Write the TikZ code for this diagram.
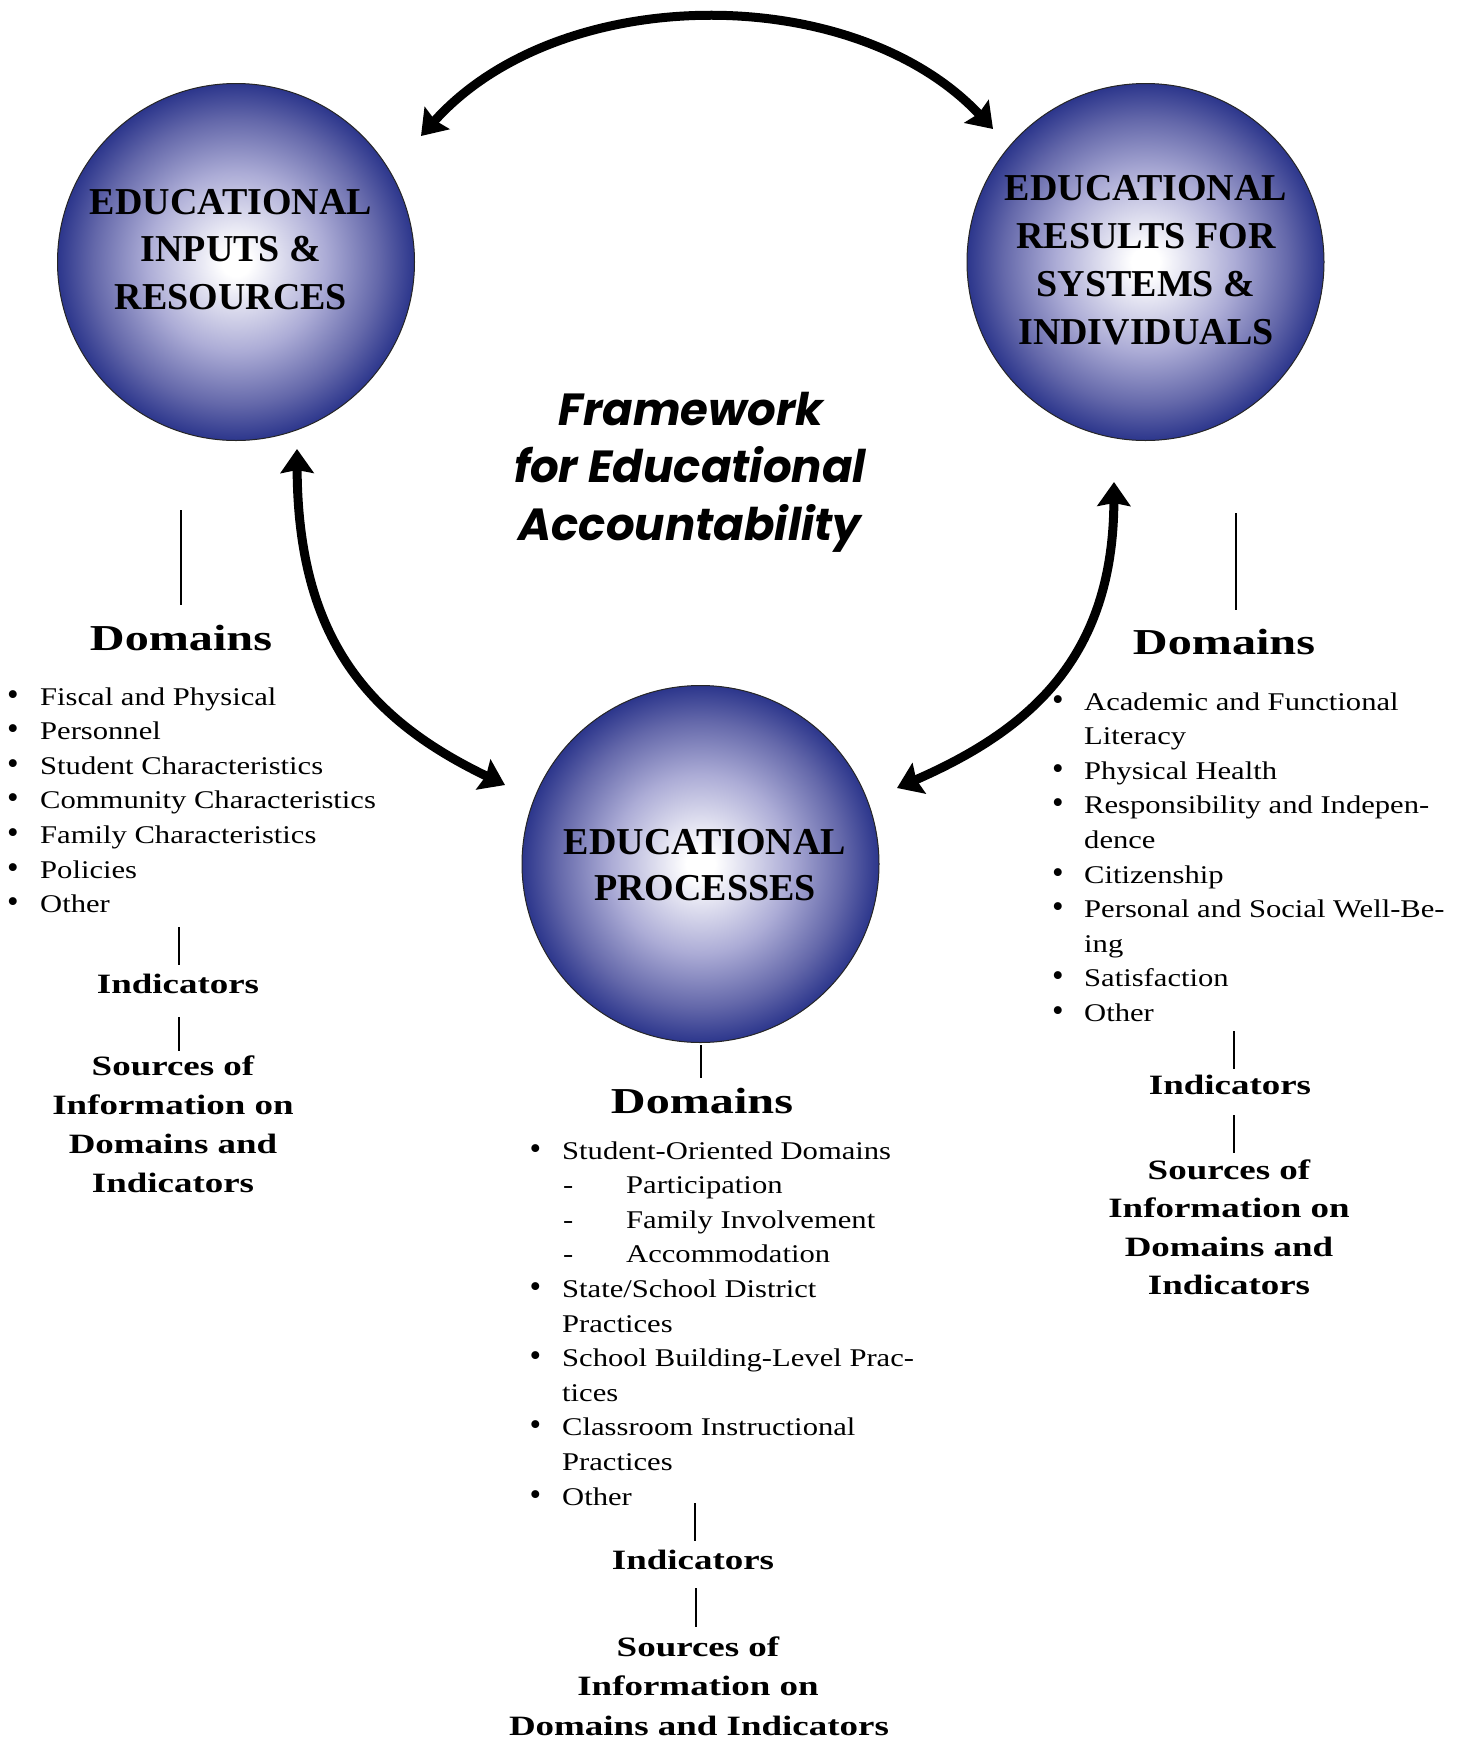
\documentclass[tikz,border=0pt]{standalone}
\usepackage{fontspec}
\setmainfont{Liberation Serif}
\newfontfamily\bodyfont[FakeStretch=1.2]{Liberation Serif}
\newfontfamily\headfont[FakeStretch=1.32]{Liberation Serif}
\newfontfamily\circfont{Liberation Serif}
\newfontfamily\titlefont{Poppins}
\usetikzlibrary{arrows.meta,calc}
\definecolor{balledge}{RGB}{44,54,140}
\pgfdeclareradialshading{ballshade}{\pgfpoint{0bp}{0bp}}{color(0bp)=(white); color(2bp)=(white); color(12.5bp)=(rgb,255:red,172;green,172;blue,214); color(20bp)=(rgb,255:red,100;green,104;blue,170); color(25bp)=(balledge); color(50bp)=(balledge)}
\tikzset{
  ball/.style={circle, draw=black!85, line width=1pt, minimum size=357pt, inner sep=0pt, shading=ballshade},
  balltext/.style={font=\circfont\bfseries\fontsize{38}{47}\selectfont, inner sep=0pt, anchor=base},
  titletext/.style={font=\titlefont\bfseries\itshape\fontsize{45}{58}\selectfont, inner sep=0pt, anchor=base},
  headtext/.style={font=\headfont\bfseries\fontsize{36.5}{44}\selectfont, inner sep=0pt, anchor=base},
  subtext/.style={font=\headfont\bfseries\fontsize{28}{38.8}\selectfont, inner sep=0pt, anchor=base},
  itemtext/.style={font=\bodyfont\fontsize{25.5}{34.6}\selectfont, inner sep=0pt, anchor=base west},
  bullet/.style={font=\circfont\fontsize{33}{34.6}\selectfont, inner sep=0pt, anchor=base},
  conn/.style={line width=2pt},
  bigarrow/.style={line width=9pt, {Stealth[length=24pt,width=33pt,inset=3pt]}-{Stealth[length=24pt,width=33pt,inset=3pt]}}
}
\begin{document}
\begin{tikzpicture}[x=1pt,y=-1pt]
\useasboundingbox[fill=white] (0,0) rectangle (1457,1738);

% circles
\node[ball] (L) at (236,262) {};
\node[ball] (R) at (1145.5,262) {};
\node[ball] (M) at (700.5,864) {};

\node[balltext] (L1) at (231,214) {EDUCATIONAL};
\node[balltext] (L2) at (231,261) {INPUTS \&};
\node[balltext] (L3) at (231,309) {RESOURCES};

\node[balltext] (R1) at (1146,200) {EDUCATIONAL};
\node[balltext] (R2) at (1146,248) {RESULTS FOR};
\node[balltext] (R3) at (1146,296) {SYSTEMS \&};
\node[balltext] (R4) at (1146,344) {INDIVIDUALS};

\node[balltext] (M1) at (705,854) {EDUCATIONAL};
\node[balltext] (M2) at (705,900) {PROCESSES};

% title
\node[titletext] (T1) at (691,425) {Framework};
\node[titletext] (T2) at (690,482) {for Educational};
\node[titletext] (T3) at (690,540) {Accountability};

% arrows
\coordinate (a1) at ($(L)+(185,-126)$);
\coordinate (a2) at ($(R)+(-152.5,-133)$);
\draw[bigarrow] (a1) .. controls (560,-19) and (854,-19) .. (a2);
\coordinate (b1) at ($(L)+(61,187)$);
\coordinate (b2) at ($(M)+(-195.5,-79)$);
\draw[bigarrow] (b1) .. controls (298,640) and (370,720) .. (b2);
\coordinate (c1) at ($(R)+(-31.5,220)$);
\coordinate (c2) at ($(M)+(196.5,-76)$);
\draw[bigarrow] (c1) .. controls (1113,656) and (1032,729) .. (c2);

% ---------- left column ----------
\coordinate (lv1a) at (181,510); \coordinate (lv1b) at (181,605);
\draw[conn] (lv1a) -- (lv1b);
\node[headtext] (LD) at (181,650) {Domains};
\node[bullet] (lb1) at (13,705) {•};   \node[itemtext] (li1) at (40,705) {Fiscal and Physical};
\node[bullet] (lb2) at (13,739.6) {•}; \node[itemtext] (li2) at (40,739.6) {Personnel};
\node[bullet] (lb3) at (13,774.2) {•}; \node[itemtext] (li3) at (40,774.2) {Student Characteristics};
\node[bullet] (lb4) at (13,808.8) {•}; \node[itemtext] (li4) at (40,808.8) {Community Characteristics};
\node[bullet] (lb5) at (13,843.4) {•}; \node[itemtext] (li5) at (40,843.4) {Family Characteristics};
\node[bullet] (lb6) at (13,878) {•};   \node[itemtext] (li6) at (40,878) {Policies};
\node[bullet] (lb7) at (13,912.6) {•}; \node[itemtext] (li7) at (40,912.6) {Other};
\coordinate (lv2a) at (178.5,927); \coordinate (lv2b) at (178.5,965);
\draw[conn] (lv2a) -- (lv2b);
\node[subtext] (LI) at (178,993) {Indicators};
\coordinate (lv3a) at (178.5,1017); \coordinate (lv3b) at (178.5,1051);
\draw[conn] (lv3a) -- (lv3b);
\node[subtext] (LS1) at (173,1075) {Sources of};
\node[subtext] (LS2) at (173,1114) {Information on};
\node[subtext] (LS3) at (173,1153) {Domains and};
\node[subtext] (LS4) at (173,1192) {Indicators};

% ---------- middle column ----------
\coordinate (mv1a) at (701,1045); \coordinate (mv1b) at (701,1078);
\draw[conn] (mv1a) -- (mv1b);
\node[headtext] (MD) at (702,1113) {Domains};
\node[bullet] (mb1) at (535.5,1159) {•};      \node[itemtext] (mi1) at (562,1159) {Student-Oriented Domains};
\node[itemtext] (md2) at (563,1193.6) {-};    \node[itemtext] (mi2) at (626,1193.6) {Participation};
\node[itemtext] (md3) at (563,1228.2) {-};    \node[itemtext] (mi3) at (626,1228.2) {Family Involvement};
\node[itemtext] (md4) at (563,1262.8) {-};    \node[itemtext] (mi4) at (626,1262.8) {Accommodation};
\node[bullet] (mb5) at (535.5,1297.4) {•};    \node[itemtext] (mi5) at (562,1297.4) {State/School District};
\node[itemtext] (mi6) at (562,1332) {Practices};
\node[bullet] (mb7) at (535.5,1366.6) {•};    \node[itemtext] (mi7) at (562,1366.6) {School Building-Level Prac-};
\node[itemtext] (mi8) at (562,1401.2) {tices};
\node[bullet] (mb9) at (535.5,1435.8) {•};    \node[itemtext] (mi9) at (562,1435.8) {Classroom Instructional};
\node[itemtext] (mi10) at (562,1470.4) {Practices};
\node[bullet] (mb11) at (535.5,1505) {•};     \node[itemtext] (mi11) at (562,1505) {Other};
\coordinate (mv2a) at (695,1503); \coordinate (mv2b) at (695,1541);
\draw[conn] (mv2a) -- (mv2b);
\node[subtext] (MI) at (693,1569) {Indicators};
\coordinate (mv3a) at (696,1588); \coordinate (mv3b) at (696,1627);
\draw[conn] (mv3a) -- (mv3b);
\node[subtext] (MS1) at (698,1656) {Sources of};
\node[subtext] (MS2) at (698,1695) {Information on};
\node[subtext] (MS3) at (699,1735) {Domains and Indicators};

% ---------- right column ----------
\coordinate (rv1a) at (1236,513); \coordinate (rv1b) at (1236,610);
\draw[conn] (rv1a) -- (rv1b);
\node[headtext] (RD) at (1224,654) {Domains};
\node[bullet] (rb1) at (1058,710) {•};      \node[itemtext] (ri1) at (1084,710) {Academic and Functional};
\node[itemtext] (ri2) at (1084,744.6) {Literacy};
\node[bullet] (rb3) at (1058,779.2) {•};    \node[itemtext] (ri3) at (1084,779.2) {Physical Health};
\node[bullet] (rb4) at (1058,813.8) {•};    \node[itemtext] (ri4) at (1084,813.8) {Responsibility and Indepen-};
\node[itemtext] (ri5) at (1084,848.4) {dence};
\node[bullet] (rb6) at (1058,883) {•};      \node[itemtext] (ri6) at (1084,883) {Citizenship};
\node[bullet] (rb7) at (1058,917.6) {•};    \node[itemtext] (ri7) at (1084,917.6) {Personal and Social Well-Be-};
\node[itemtext] (ri8) at (1084,952.2) {ing};
\node[bullet] (rb9) at (1058,986.8) {•};    \node[itemtext] (ri9) at (1084,986.8) {Satisfaction};
\node[bullet] (rb10) at (1058,1021.4) {•};  \node[itemtext] (ri10) at (1084,1021.4) {Other};
\coordinate (rv2a) at (1234,1031); \coordinate (rv2b) at (1234,1069);
\draw[conn] (rv2a) -- (rv2b);
\node[subtext] (RI) at (1230,1094) {Indicators};
\coordinate (rv3a) at (1234,1115); \coordinate (rv3b) at (1234,1153);
\draw[conn] (rv3a) -- (rv3b);
\node[subtext] (RS1) at (1229,1179) {Sources of};
\node[subtext] (RS2) at (1229,1217) {Information on};
\node[subtext] (RS3) at (1229,1256) {Domains and};
\node[subtext] (RS4) at (1229,1294) {Indicators};
\end{tikzpicture}
\end{document}
